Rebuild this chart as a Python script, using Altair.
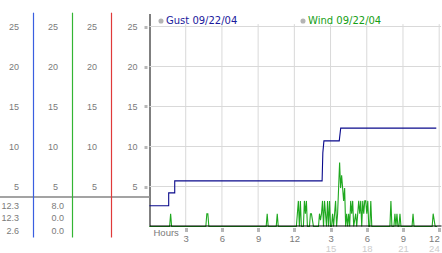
import altair as alt
import pandas as pd

# ---------------- data ----------------
value_ticks = [5, 10, 15, 20, 25]
hour_ticks = [3, 6, 9, 12, 15, 18, 21, 24]
hour_ticks_pm = [15, 18, 21, 24]

gust_label = "Gust 09/22/04"
wind_label = "Wind 09/22/04"

gust_hours = [0.0, 1.59, 1.59, 2.09, 2.09, 14.30, 14.36, 14.45, 15.72, 15.84, 23.76]
gust_values = [2.6, 2.6, 4.2, 4.2, 5.7, 5.7, 9.2, 10.7, 10.7, 12.3, 12.3]

# wind samples: 5-minute slot of the day and speed
wind_slot = [0, 20, 21, 22, 56, 57, 58, 59, 116, 117, 118, 126, 127, 128,
             146, 147, 148, 149, 150, 151, 153, 154, 155, 156, 157,
             159, 160, 161, 162, 163,
             168, 169, 170, 171, 172, 173, 174, 175, 176, 177, 178, 179, 180,
             181, 182, 183, 184, 185, 186, 187, 188, 189, 190, 191, 192, 193,
             194, 195, 196, 197, 198, 199, 200, 201, 202, 203, 204, 205, 206,
             207, 208, 209, 210, 211, 212, 213, 214, 215, 216, 217, 218, 219,
             220, 221, 239, 240, 241, 243, 244, 245, 246, 247, 248, 249, 250,
             261, 262, 263, 281, 282, 283, 284, 286]
wind_values = [0, 0, 1.6, 0, 0, 1.6, 1.6, 0, 0, 1.6, 0, 0, 1.6, 0,
               0, 1.6, 3.2, 0, 3.2, 0, 0, 3.2, 1.6, 3.2, 0,
               0, 1.6, 1.6, 0.8, 0,
               0, 1.6, 0.8, 1.6, 3.2, 0, 3.2, 1.6, 0, 3.2, 0, 3.2, 0,
               0, 1.6, 0, 1.6, 3.2, 0, 1.6, 4.8, 8.0, 4.8, 6.4, 4.8, 3.2,
               4.8, 0, 1.6, 0, 1.6, 0, 3.2, 1.6, 3.2, 0, 0.8, 1.6, 0,
               1.6, 3.2, 1.6, 3.2, 0, 3.2, 1.6, 3.2, 3.2, 1.6, 3.2, 0, 0,
               3.2, 0, 0, 3.2, 0, 0, 1.6, 0, 1.6, 0, 0, 1.6, 0,
               0, 1.6, 0, 0, 1.6, 0.8, 0, 0]
assert len(wind_slot) == len(wind_values)

column_ids = [1, 2, 3]
column_colors = ["#3a5ee0", "#33b533", "#e03a3a"]

stat_rows = [0, 1, 2]
gust_stats = ["12.3", "12.3", "2.6"]
wind_stats = ["8.0", "0.0", "0.0"]

# ---------------- styles / scales ----------------
NAVY = "#0a0a8c"
GREEN = "#1fa81f"
GRID = "#d9d9d9"
LABEL = "#7a7a7a"
MARK = "#b8b8b8"
FONT = "Liberation Sans"

H_MAX = 24.15
V_MAX = 26.625
X_SCALE = alt.Scale(domain=[0, H_MAX], range=[149.5, 441], nice=False, zero=False)
Y_SCALE = alt.Scale(domain=[0, V_MAX], range=[226.5, 13.5], nice=False, zero=False)
COL_SCALE = alt.Scale(domain=[0, 4], range=[-5.5, 150.5], nice=False, zero=False)
ROW_SCALE = alt.Scale(domain=[0, 2], range=[205.7, 230.7], nice=False, zero=False)

# ---------------- tables ----------------
gust_df = pd.DataFrame({"series": gust_label, "hour": gust_hours,
                        "value": gust_values, "order": range(len(gust_hours))})
wind_df = pd.DataFrame({"series": wind_label, "hour": [s / 12 for s in wind_slot],
                        "value": wind_values, "order": range(len(wind_slot))})
hgrid_df = pd.DataFrame({"v": value_ticks, "h0": 0.0, "h1": H_MAX})
vgrid_df = pd.DataFrame({"h": hour_ticks, "v0": 0.0, "v1": 25.3})

sep_df = pd.DataFrame({"c0": [0.0], "c1": [3.97], "v": [3.69]})
col_label_df = pd.DataFrame([{"col": c, "v": v, "t": str(v)}
                             for c in column_ids for v in value_ticks])
gust_stat_df = pd.DataFrame({"col": 1, "row": stat_rows, "t": gust_stats})
wind_stat_df = pd.DataFrame({"col": 2, "row": stat_rows, "t": wind_stats})

# ---------------- plot area ----------------
y_axis = alt.Axis(orient="left", offset=-149.5, values=value_ticks, grid=False,
                  title=None, domainColor="black", domainWidth=1,
                  labelColor=LABEL, labelFont=FONT, labelFontSize=9,
                  labelPadding=6.5, tickColor=MARK, tickSize=6,
                  tickWidth=3, tickDash=[0, 2.5, 3, 20])

hgrid = alt.Chart(hgrid_df).mark_rule(color=GRID, strokeWidth=1).encode(
    x=alt.X("h0:Q", scale=X_SCALE, axis=None),
    x2="h1:Q",
    y=alt.Y("v:Q", scale=Y_SCALE, axis=y_axis),
)

x_axis = alt.Axis(orient="bottom", offset=-27.5, values=hour_ticks, grid=False,
                  labelExpr="datum.value > 12 ? '' + (datum.value - 12) : '' + datum.value",
                  domainColor="black", domainWidth=1, zindex=1,
                  tickColor=MARK, tickSize=6, tickWidth=3,
                  tickDash=[0, 2, 4, 20],
                  labelColor=LABEL, labelFont=FONT, labelFontSize=9.5,
                  labelBaseline="alphabetic", labelPadding=10.2,
                  labelFlush=3, labelOverlap=False, labelBound=False,
                  title="Hours", titleX=153, titleY=9.5, titleAlign="left",
                  titleBaseline="alphabetic", titleAngle=0, titleColor=LABEL,
                  titleFont=FONT, titleFontSize=9.5, titleFontWeight="normal")

vgrid = alt.Chart(vgrid_df).mark_rule(color=GRID, strokeWidth=1).encode(
    x=alt.X("h:Q", scale=X_SCALE, axis=x_axis),
    y=alt.Y("v0:Q", scale=Y_SCALE, axis=None),
    y2="v1:Q",
)

x_axis_pm = alt.Axis(orient="bottom", offset=-27.5, values=hour_ticks_pm,
                     grid=False, domain=False, ticks=False,
                     labelColor="#cccccc", labelFont=FONT, labelFontSize=9.5,
                     labelBaseline="alphabetic", labelPadding=26.2,
                     labelFlush=3, labelOverlap=False, labelBound=False,
                     title=None)

gust_line = alt.Chart(gust_df).mark_line(strokeWidth=1.1, color=NAVY).encode(
    x=alt.X("hour:Q", scale=X_SCALE, axis=None),
    y=alt.Y("value:Q", scale=Y_SCALE, axis=None),
    order="order:Q",
)
wind_line = alt.Chart(wind_df).mark_line(strokeWidth=1.1, color=GREEN).encode(
    x=alt.X("hour:Q", scale=X_SCALE, axis=x_axis_pm),
    y=alt.Y("value:Q", scale=Y_SCALE, axis=None),
    order="order:Q",
)


def legend_key(df, label, x, color):
    """Legend entry: grey circle and a coloured label (no marks drawn)."""
    return alt.Chart(df).transform_filter("false").mark_point(
        filled=True, fill="#b4b4b4", stroke="#8a8a8a", strokeWidth=1, opacity=1
    ).encode(
        shape=alt.Shape(
            "series:N",
            scale=alt.Scale(domain=[label], range=["circle"]),
            legend=alt.Legend(
                orient="none", legendX=x, legendY=16, direction="horizontal",
                title=None, symbolSize=26, symbolFillColor="#b4b4b4",
                symbolStrokeColor="#8a8a8a", symbolStrokeWidth=1,
                symbolOpacity=1, labelFont="DejaVu Sans", labelFontSize=10,
                labelOffset=0, labelColor=color, padding=0,
            ),
        )
    )


gust_key = legend_key(gust_df, gust_label, 156, "#1a1a9c")
wind_key = legend_key(wind_df, wind_label, 298, "#16a016")

plot = alt.layer(hgrid, vgrid, gust_line, wind_line, gust_key, wind_key).resolve_axis(
    x="independent", y="independent"
).resolve_scale(shape="independent")

# ---------------- left scale panel ----------------
col_rules = [
    alt.Chart(pd.DataFrame({"col": [c], "v0": [-1.375], "v1": [V_MAX + 0.1]}))
    .mark_rule(strokeWidth=1.2, color=clr, opacity=1)
    .encode(
        x=alt.X("col:Q", scale=COL_SCALE, axis=None),
        y=alt.Y("v0:Q", scale=Y_SCALE, axis=None),
        y2="v1:Q",
    )
    for c, clr in zip(column_ids, column_colors)
]
sep = alt.Chart(sep_df).mark_rule(color="#a3a3a3", strokeWidth=2).encode(
    x=alt.X("c0:Q", scale=COL_SCALE, axis=None),
    x2="c1:Q",
    y=alt.Y("v:Q", scale=Y_SCALE, axis=None),
)
col_labels = alt.Chart(col_label_df).mark_text(
    align="right", baseline="middle", dx=-14.5, font=FONT, fontSize=9, color=LABEL
).encode(
    x=alt.X("col:Q", scale=COL_SCALE, axis=None),
    y=alt.Y("v:Q", scale=Y_SCALE, axis=None),
    text="t:N",
)
left = alt.layer(sep, *col_rules, col_labels)

gust_stat = alt.Chart(gust_stat_df).mark_text(
    align="right", baseline="middle", dx=-14.5, font=FONT, fontSize=9, color=LABEL
).encode(
    x=alt.X("col:Q", scale=COL_SCALE, axis=None),
    y=alt.Y("row:Q", scale=ROW_SCALE, axis=None),
    text="t:N",
)
wind_stat = alt.Chart(wind_stat_df).mark_text(
    align="right", baseline="middle", dx=-8.5, font=FONT, fontSize=9, color=LABEL
).encode(
    x=alt.X("col:Q", scale=COL_SCALE, axis=None),
    y=alt.Y("row:Q", scale=ROW_SCALE, axis=None),
    text="t:N",
)
stats = alt.layer(gust_stat, wind_stat)

chart = (
    alt.layer(plot, left, stats)
    .resolve_scale(x="independent", y="independent", shape="independent")
    .properties(width=442, height=253, padding=0,
                autosize=alt.AutoSizeParams(type="none"),
                background="white")
    .configure_view(strokeWidth=0)
)

chart.save("out.html", embed_options={"renderer": "svg", "actions": False})
